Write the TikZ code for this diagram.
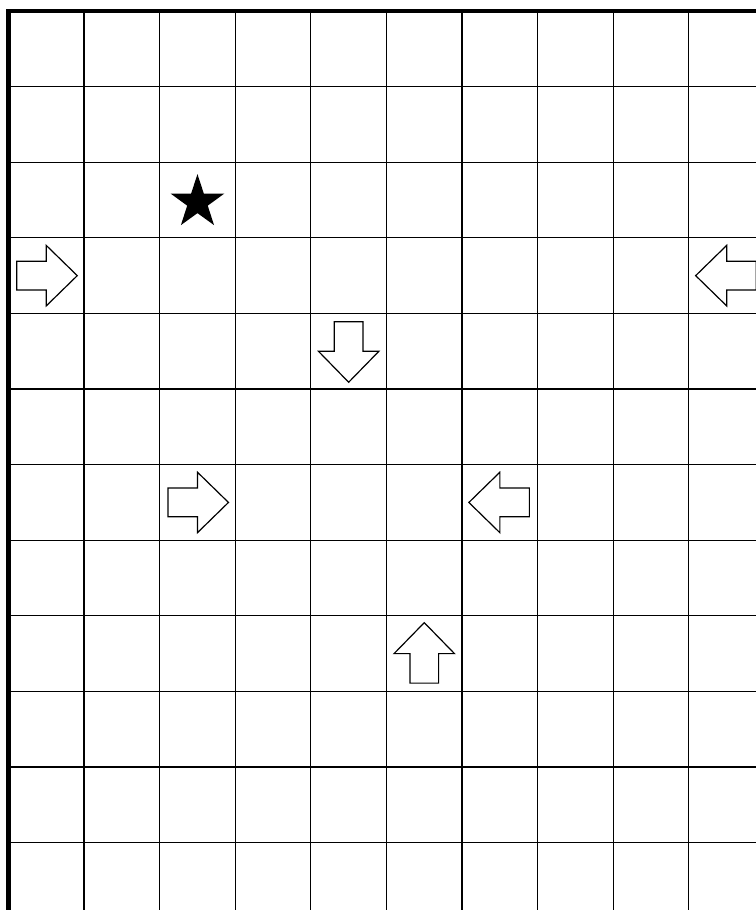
\documentclass[tikz,border=0pt]{standalone}
\usepackage{tikz}

\begin{document}
\begin{tikzpicture}[x=1cm,y=-1cm]
  \useasboundingbox (0,0) rectangle (10,12.037);
  \clip (0,0) rectangle (10,12.037);
  \def\xo{0.112}
  \def\yo{0.146}
  % board
  \foreach \c in {1,...,9} {
    \draw[line width=0.45pt] (\xo+\c,\yo) -- (\xo+\c,12.2);
  }
  \foreach \r in {1,...,11} {
    \draw[line width=0.45pt] (\xo,\yo+\r) -- (10.2,\yo+\r);
  }
  \draw[line width=1.7pt] (\xo,12.2) -- (\xo,\yo) -- (10.2,\yo);
  % arrow in cell (col,row), turned by angle
  \def\arrw(#1,#2)#3{
    \draw[line width=0.45pt,fill=white,shift={(\xo+#1+0.5,\yo+#2+0.5)},rotate=#3]
      (0.41,0) -- (0,0.4) -- (0,0.19) -- (-0.39,0.19) -- (-0.39,-0.19)
      -- (0,-0.19) -- (0,-0.4) -- cycle;
  }
  \arrw(0,3){0}
  \arrw(2,6){0}
  \arrw(9,3){180}
  \arrw(6,6){180}
  \arrw(4,4){-90}
  \arrw(5,8){90}
  % star
  \fill[shift={(\xo+2.5,\yo+2.53)}] (-90:0.373) -- (-54:0.143) -- (-18:0.373)
    -- (18:0.143) -- (54:0.373) -- (90:0.143) -- (126:0.373) -- (162:0.143)
    -- (198:0.373) -- (234:0.143) -- cycle;
\end{tikzpicture}
\end{document}
